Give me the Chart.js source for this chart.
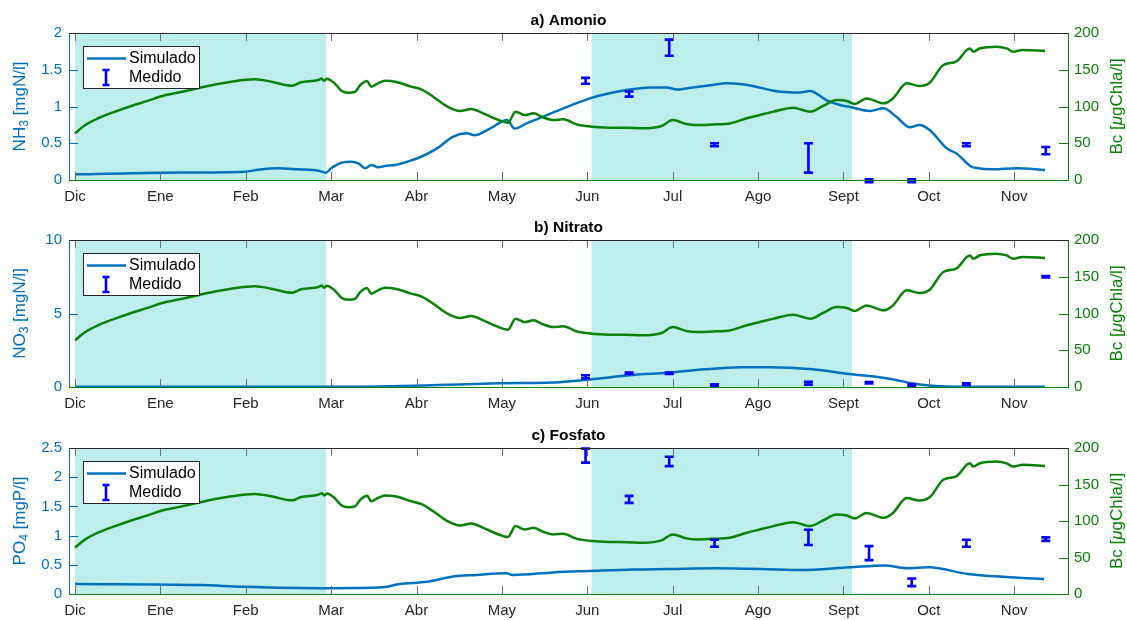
<!DOCTYPE html>
<html>
<head>
<meta charset="utf-8">
<script src="https://cdn.jsdelivr.net/npm/chart.js@4.4.1/dist/chart.umd.min.js"></script>
<style>
  html, body { margin: 0; padding: 0; background: #fff; }
  #wrap { position: relative; width: 1127px; height: 620px; }
  canvas { position: absolute; left: 0; }
</style>
</head>
<body>
<div id="wrap">
  <canvas id="chartA" width="1127" height="205" style="top:0px"></canvas>
  <canvas id="chartB" width="1127" height="207" style="top:205px"></canvas>
  <canvas id="chartC" width="1127" height="208" style="top:412px"></canvas>
</div>
<script>
// x axis is in months since 1 Dec
const monthLabels = ['Dic', 'Ene', 'Feb', 'Mar', 'Abr', 'May', 'Jun', 'Jul', 'Ago', 'Sept', 'Oct', 'Nov'];
const shadeRanges = [[0, 2.94], [6.05, 9.10]];

// Bc (same curve on every panel, right axis)
const bcMonths = [0, 0.12, 0.27, 0.47, 0.66, 0.86, 1.01, 1.21, 1.44, 1.64, 1.83, 2.11, 2.3, 2.54, 2.65, 2.85, 2.89, 2.92, 2.95,
  3.04, 3.12, 3.2, 3.28, 3.34, 3.42, 3.47, 3.55, 3.63, 3.75, 3.94, 4.06, 4.2, 4.35, 4.51, 4.64, 4.78, 4.94, 5.07, 5.16,
  5.27, 5.37, 5.48, 5.6, 5.72, 5.87, 6.05, 6.26, 6.46, 6.65, 6.87, 7.0, 7.16, 7.28, 7.51, 7.67, 7.87, 8.02, 8.18, 8.41,
  8.61, 8.76, 8.92, 9.04, 9.13, 9.27, 9.47, 9.58, 9.74, 9.89, 10.01, 10.17, 10.32, 10.48, 10.52, 10.6, 10.79, 10.91,
  10.99, 11.1, 11.36];
const bcValues = [63.5, 74.8, 84, 93, 100.7, 108, 114, 119, 124.8, 130, 133.8, 137, 133.8, 128.3, 132.9, 136, 138, 135, 137.8,
  131.6, 121.5, 118.8, 120, 129, 134.7, 127, 131.6, 135, 133.8, 127, 123, 113, 100.7, 93.9, 96.6, 90.7, 82.6, 78, 93,
  88.4, 90.7, 85.3, 81.6, 82.6, 75.8, 72.5, 71.2, 71, 70.3, 73.5, 81.6, 76.2, 74.8, 75.8, 77, 84, 88.4, 93, 98.4,
  93, 100.7, 108.8, 107.5, 103.4, 111, 104.3, 111, 131.6, 128, 132.4, 156.5, 161, 179, 174.6, 179.2, 181.4, 179,
  174.6, 177, 175.5];

// simulated NH3
const nh3Months = [0, 1.05, 1.99, 2.15, 2.38, 2.61, 2.85, 2.94, 3.0, 3.12, 3.24, 3.32, 3.4, 3.47, 3.55, 3.63, 3.75, 3.92, 4.08,
  4.24, 4.43, 4.59, 4.68, 4.86, 5.06, 5.15, 5.29, 5.48, 5.72, 6.03, 6.26, 6.5, 6.73, 6.93, 7.05, 7.24, 7.44, 7.63, 7.79,
  7.98, 8.14, 8.26, 8.49, 8.61, 8.8, 8.96, 9.09, 9.31, 9.47, 9.62, 9.78, 9.89, 10.01, 10.21, 10.32, 10.5, 10.54, 10.75,
  11.03, 11.36];
const nh3Values = [0.077, 0.1, 0.113, 0.14, 0.159, 0.145, 0.127, 0.1, 0.159, 0.235, 0.25, 0.227, 0.159, 0.204, 0.172, 0.19, 0.204, 0.26, 0.33,
  0.43, 0.59, 0.635, 0.61, 0.70, 0.816, 0.70, 0.77, 0.86, 0.975, 1.11, 1.18, 1.23, 1.26, 1.26, 1.23, 1.26, 1.29, 1.315, 1.306,
  1.27, 1.224, 1.20, 1.19, 1.21, 1.088, 1.02, 0.99, 0.94, 0.975, 0.86, 0.717, 0.748, 0.68, 0.43, 0.363, 0.18, 0.167, 0.145,
  0.159, 0.136];

// simulated NO3
const no3Months = [0, 3.0, 3.98, 4.5, 4.98, 5.52, 5.68, 5.98, 6.53, 6.95, 7.37, 7.8, 8.13, 8.64, 9.07, 9.4, 9.6, 9.8, 10.0, 10.2, 10.4, 11.36];
const no3Values = [0.02, 0.02, 0.09, 0.17, 0.25, 0.29, 0.33, 0.48, 0.82, 0.97, 1.2, 1.34, 1.34, 1.2, 0.88, 0.68, 0.5, 0.25, 0.1, 0.03, 0.01, 0.01];

// simulated PO4
const po4Months = [0, 1.46, 1.97, 2.95, 3.61, 3.8, 4.12, 4.43, 4.7, 5.05, 5.13, 5.6, 6.03, 6.54, 6.95, 7.51, 8.22, 8.49, 9.07, 9.49, 9.74, 10.0, 10.46, 11.35];
const po4Values = [0.171, 0.154, 0.125, 0.1, 0.115, 0.17, 0.21, 0.3, 0.325, 0.354, 0.325, 0.37, 0.394, 0.42, 0.428, 0.44, 0.42, 0.41, 0.457, 0.49, 0.44, 0.457, 0.342, 0.257];

// measured samples (value +/- error)
const measMonths = [5.98, 6.49, 6.96, 7.49, 8.59, 9.3, 9.8, 10.44, 11.37];
const nh3Meas = [1.35, 1.17, 1.80, 0.48, 0.30, -0.01, -0.01, 0.48, 0.40];
const nh3Err = [0.04, 0.035, 0.11, 0.02, 0.2, 0.02, 0.02, 0.02, 0.05];
const no3Meas = [0.70, 0.93, 0.93, 0.14, 0.25, 0.29, 0.14, 0.2, 7.5];
const no3Err = [0.1, 0.05, 0.05, 0.05, 0.1, 0.05, 0.05, 0.05, 0.05];
const po4Meas = [2.37, 1.62, 2.27, 0.87, 0.97, 0.7, 0.2, 0.87, 0.94];
const po4Err = [0.12, 0.06, 0.08, 0.06, 0.13, 0.12, 0.065, 0.06, 0.03];

const BLUE = '#0072BD';
const GREEN = '#0a820a';
const DARK = '#262626';
const SHADE = '#bdeeec';
const BAR = '#0000ff';
const FONT = '"Liberation Sans", Arial, Helvetica, sans-serif';

const toXY = (xs, ys) => xs.map((v, i) => ({ x: v, y: ys[i] }));
const fmtTick = v => String(Math.round(v * 100) / 100);

function seg(ctx, x0, y0, x1, y1) {
  ctx.beginPath();
  ctx.moveTo(x0, y0);
  ctx.lineTo(x1, y1);
  ctx.stroke();
}

function panelPlugin(p) {
  return {
    id: 'panelDeco',
    beforeDraw(chart) {
      const { ctx, chartArea: a, scales: { x } } = chart;
      ctx.save();
      ctx.fillStyle = SHADE;
      shadeRanges.forEach(([s, e]) => {
        const x0 = x.getPixelForValue(s), x1 = x.getPixelForValue(e);
        ctx.fillRect(x0, a.top, x1 - x0, a.bottom - a.top);
      });
      ctx.restore();
    },
    afterDatasetsDraw(chart) {
      const { ctx, scales: { x, y } } = chart;
      ctx.save();
      ctx.strokeStyle = BAR;
      ctx.lineWidth = 2.6;
      measMonths.forEach((m, i) => {
        const px = x.getPixelForValue(m);
        const lo = y.getPixelForValue(p.meas[i] - p.err[i]);
        const hi = y.getPixelForValue(p.meas[i] + p.err[i]);
        ctx.beginPath();
        ctx.moveTo(px, lo); ctx.lineTo(px, hi);
        ctx.moveTo(px - 4.5, lo); ctx.lineTo(px + 4.5, lo);
        ctx.moveTo(px - 4.5, hi); ctx.lineTo(px + 4.5, hi);
        ctx.stroke();
      });
      ctx.restore();
    },
    afterDraw(chart) {
      const { ctx, chartArea: a, scales: { x, y, y1 } } = chart;
      ctx.save();
      ctx.lineWidth = 1;

      // inward tick marks
      ctx.strokeStyle = '#6e6e6e';
      x.ticks.forEach(t => {
        const px = Math.round(x.getPixelForValue(t.value)) + 0.5;
        seg(ctx, px, a.bottom, px, a.bottom - 8);
        seg(ctx, px, a.top, px, a.top + 8);
      });
      ctx.strokeStyle = BLUE;
      y.ticks.forEach(t => {
        const py = Math.round(y.getPixelForValue(t.value)) + 0.5;
        seg(ctx, a.left, py, a.left + 9, py);
      });
      ctx.strokeStyle = GREEN;
      y1.ticks.forEach(t => {
        const py = Math.round(y1.getPixelForValue(t.value)) + 0.5;
        seg(ctx, a.right, py, a.right - 9, py);
      });

      // frame
      ctx.strokeStyle = DARK;
      seg(ctx, a.left, a.top + 0.5, a.right, a.top + 0.5);
      ctx.strokeStyle = GREEN;
      seg(ctx, a.left, a.bottom + 0.5, a.right + 1, a.bottom + 0.5);
      seg(ctx, a.right + 0.5, a.top, a.right + 0.5, a.bottom);
      ctx.strokeStyle = BLUE;
      seg(ctx, a.left + 0.5, a.top, a.left + 0.5, a.bottom);

      // title
      ctx.fillStyle = '#000';
      ctx.font = 'bold 15.5px ' + FONT;
      ctx.textAlign = 'center';
      ctx.textBaseline = 'middle';
      ctx.fillText(p.title, (a.left + a.right) / 2, a.top - 12);

      // left axis title with subscript
      const midY = (a.top + a.bottom) / 2;
      ctx.save();
      ctx.translate(20, midY);
      ctx.rotate(-Math.PI / 2);
      ctx.fillStyle = BLUE;
      ctx.textAlign = 'left';
      ctx.textBaseline = 'middle';
      const big = '17px ' + FONT, small = '12px ' + FONT;
      ctx.font = big; const w0 = ctx.measureText(p.yName).width;
      ctx.font = small; const w1 = ctx.measureText(p.ySub).width;
      ctx.font = big; const w2 = ctx.measureText(p.yUnit).width;
      let cx = -(w0 + w1 + w2) / 2;
      ctx.font = big; ctx.fillText(p.yName, cx, 0); cx += w0;
      ctx.font = small; ctx.fillText(p.ySub, cx, 5); cx += w1;
      ctx.font = big; ctx.fillText(p.yUnit, cx, 0);
      ctx.restore();

      // right axis title
      ctx.save();
      ctx.translate(1117, midY);
      ctx.rotate(-Math.PI / 2);
      ctx.fillStyle = GREEN;
      ctx.textAlign = 'left';
      ctx.textBaseline = 'middle';
      const f1 = '17px ' + FONT, f2 = 'italic 17px ' + FONT;
      const parts = [['Bc [', f1], ['\u03bc', f2], ['gChla/l]', f1]];
      let tw = 0;
      parts.forEach(([s, f]) => { ctx.font = f; tw += ctx.measureText(s).width; });
      let rx = -tw / 2;
      parts.forEach(([s, f]) => { ctx.font = f; ctx.fillText(s, rx, 0); rx += ctx.measureText(s).width; });
      ctx.restore();

      // legend
      const lx = a.left + 14, ly = a.top + 13;
      ctx.fillStyle = '#fff';
      ctx.fillRect(lx, ly, 116, 42);
      ctx.strokeStyle = DARK;
      ctx.lineWidth = 1;
      ctx.strokeRect(lx + 0.5, ly + 0.5, 116, 42);
      ctx.strokeStyle = BLUE;
      ctx.lineWidth = 2.5;
      seg(ctx, lx + 4, ly + 12.5, lx + 43, ly + 12.5);
      ctx.strokeStyle = BAR;
      ctx.lineWidth = 2.6;
      ctx.beginPath();
      ctx.moveTo(lx + 23, ly + 24); ctx.lineTo(lx + 23, ly + 39);
      ctx.moveTo(lx + 19.5, ly + 24); ctx.lineTo(lx + 26.5, ly + 24);
      ctx.moveTo(lx + 19.5, ly + 39); ctx.lineTo(lx + 26.5, ly + 39);
      ctx.stroke();
      ctx.fillStyle = '#000';
      ctx.font = '16px ' + FONT;
      ctx.textAlign = 'left';
      ctx.textBaseline = 'middle';
      ctx.fillText('Simulado', lx + 46, ly + 12.5);
      ctx.fillText('Medido', lx + 46, ly + 32);
      ctx.restore();
    }
  };
}

function makePanel(canvasId, p) {
  const ctx = document.getElementById(canvasId).getContext('2d');
  return new Chart(ctx, {
    type: 'line',
    data: {
      datasets: [
        {
          label: 'Bc',
          data: toXY(bcMonths, bcValues),
          yAxisID: 'y1',
          borderColor: GREEN,
          borderWidth: 2.5,
          pointRadius: 0,
          fill: false,
          cubicInterpolationMode: 'monotone'
        },
        {
          label: 'Simulado',
          data: toXY(p.simMonths, p.simValues),
          yAxisID: 'y',
          borderColor: BLUE,
          borderWidth: 2.5,
          pointRadius: 0,
          fill: false,
          cubicInterpolationMode: 'monotone'
        }
      ]
    },
    options: {
      responsive: false,
      animation: false,
      devicePixelRatio: 1,
      layout: { padding: { top: p.padTop, left: 0, right: 0, bottom: 0 } },
      plugins: { legend: { display: false }, title: { display: false }, tooltip: { enabled: false } },
      scales: {
        x: {
          type: 'linear',
          min: -0.07,
          max: 11.63,
          grid: { display: false, drawTicks: false },
          border: { display: false },
          afterBuildTicks: s => { s.ticks = monthLabels.map((_, i) => ({ value: i })); },
          afterFit: s => { s.height = p.xHeight; },
          ticks: {
            autoSkip: false,
            maxRotation: 0,
            padding: 8,
            color: DARK,
            font: { size: 15, family: FONT },
            callback: v => monthLabels[Math.round(v)]
          }
        },
        y: {
          position: 'left',
          min: 0,
          max: p.yMax,
          grid: { display: false, drawTicks: false },
          border: { display: false },
          afterFit: s => { s.width = 69; },
          ticks: { stepSize: p.yStep, padding: 7, color: BLUE, font: { size: 15, family: FONT }, callback: fmtTick }
        },
        y1: {
          position: 'right',
          min: 0,
          max: 200,
          grid: { display: false, drawTicks: false },
          border: { display: false },
          afterFit: s => { s.width = 59; },
          ticks: { stepSize: 50, padding: 6, color: GREEN, font: { size: 15, family: FONT }, callback: fmtTick }
        }
      }
    },
    plugins: [panelPlugin(p)]
  });
}

makePanel('chartA', {
  title: 'a) Amonio', yName: 'NH', ySub: '3', yUnit: ' [mgN/l]',
  yMax: 2, yStep: 0.5, padTop: 33, xHeight: 25,
  simMonths: nh3Months, simValues: nh3Values, meas: nh3Meas, err: nh3Err
});
makePanel('chartB', {
  title: 'b) Nitrato', yName: 'NO', ySub: '3', yUnit: ' [mgN/l]',
  yMax: 10, yStep: 5, padTop: 35, xHeight: 25,
  simMonths: no3Months, simValues: no3Values, meas: no3Meas, err: no3Err
});
makePanel('chartC', {
  title: 'c) Fosfato', yName: 'PO', ySub: '4', yUnit: ' [mgP/l]',
  yMax: 2.5, yStep: 0.5, padTop: 36, xHeight: 26,
  simMonths: po4Months, simValues: po4Values, meas: po4Meas, err: po4Err
});
</script>
</body>
</html>
